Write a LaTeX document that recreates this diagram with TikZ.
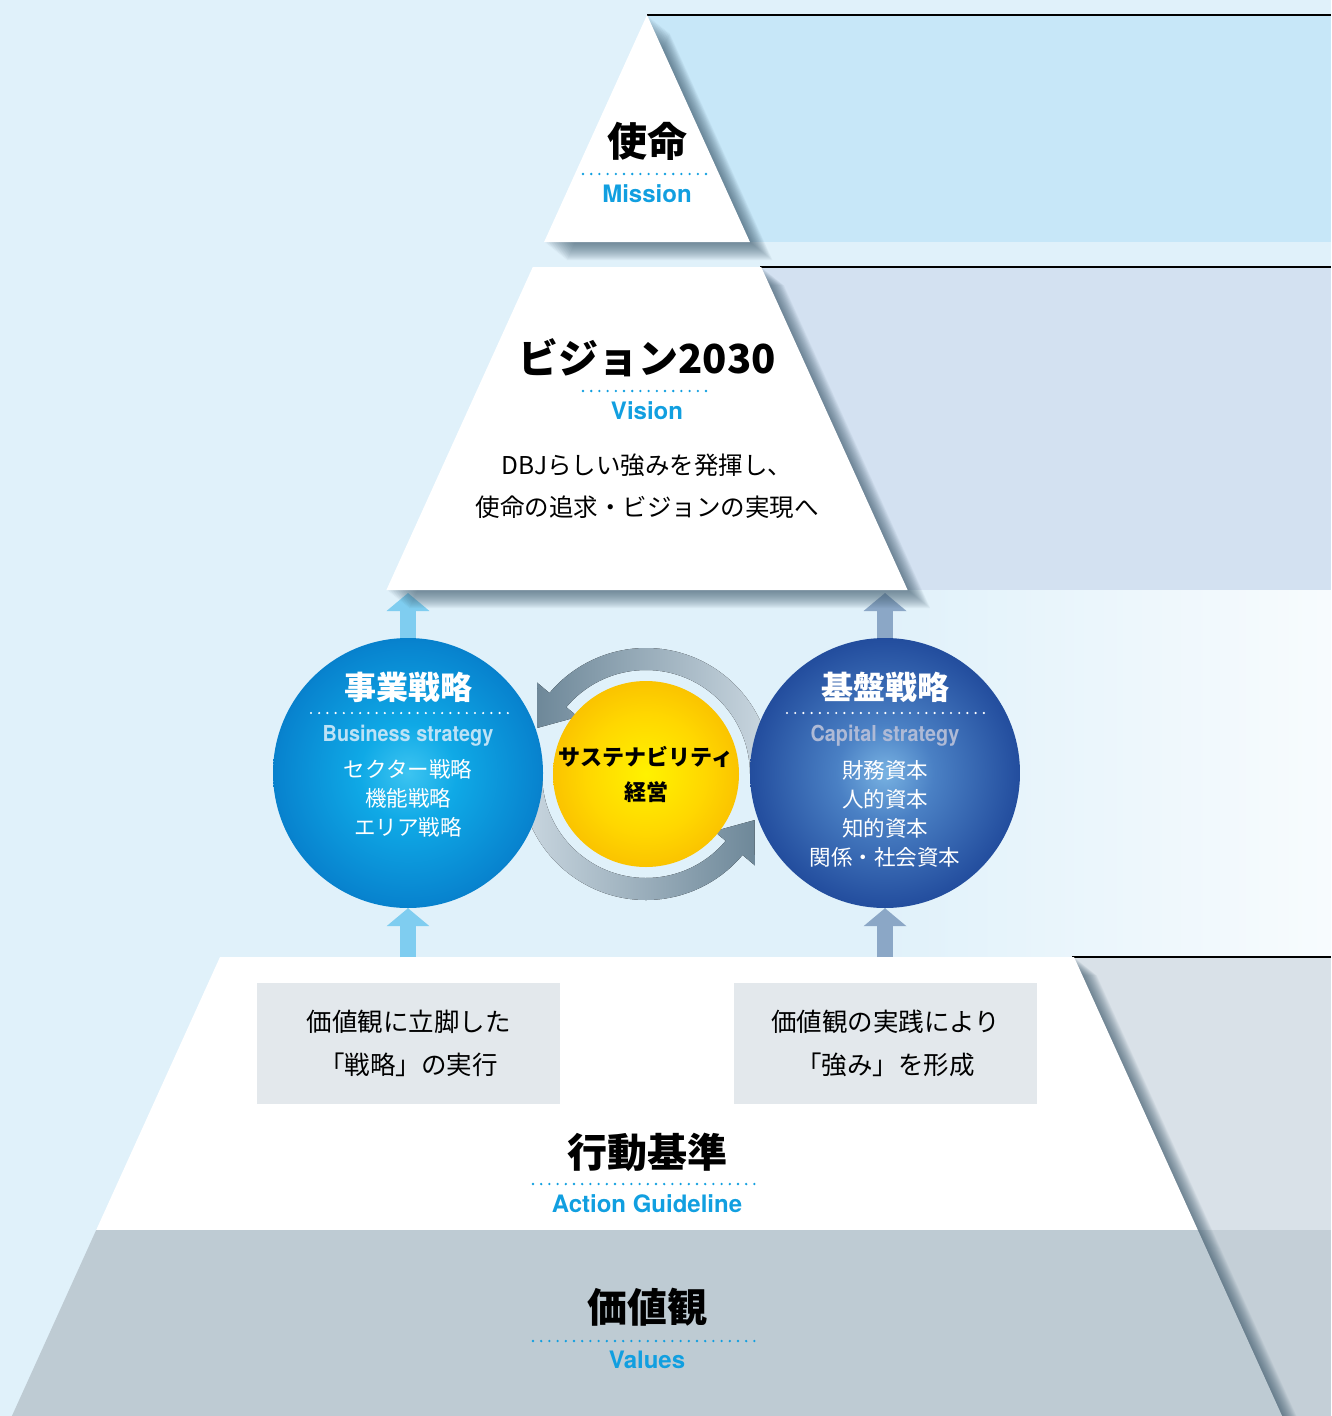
\documentclass[tikz,border=0pt]{standalone}
\usepackage{fontspec}
\setmainfont{Noto Sans CJK JP}
\newfontfamily\lat{TeX Gyre Heros}
\newfontfamily\latc[FakeStretch=0.9]{TeX Gyre Heros}
\usetikzlibrary{arrows.meta}
\definecolor{bg}{HTML}{E0F1FA}
\definecolor{bandA}{HTML}{C7E7F8}
\definecolor{bandB}{HTML}{D3E1F1}
\definecolor{bandD}{HTML}{D9E1E8}
\definecolor{bandE}{HTML}{C4CFD7}
\definecolor{valfill}{HTML}{BECBD3}
\definecolor{boxfill}{HTML}{E3E8EC}
\definecolor{cyanT}{HTML}{119FE0}
\definecolor{arrL}{HTML}{7FCDF0}
\definecolor{arrR}{HTML}{8BA7C6}
\definecolor{ringD}{HTML}{6E8899}
\definecolor{ringL}{HTML}{CBD8E1}
\definecolor{shadowC}{HTML}{3F5B6E}
\definecolor{lcA}{HTML}{3DC4F1}
\definecolor{lcB}{HTML}{0FA9E6}
\definecolor{lcC}{HTML}{0884CF}
\definecolor{lcD}{HTML}{0062B1}
\definecolor{rcA}{HTML}{78B2E2}
\definecolor{rcB}{HTML}{4A80C4}
\definecolor{rcC}{HTML}{2550A0}
\definecolor{rcD}{HTML}{0F3584}
\definecolor{ycA}{HTML}{FFF200}
\definecolor{ycB}{HTML}{FFD700}
\definecolor{ycC}{HTML}{F6B000}
\definecolor{bizsub}{HTML}{BDE2F6}
\definecolor{capsub}{HTML}{AFBAD6}
\pgfdeclareradialshading{ballL}{\pgfpoint{0bp}{0bp}}{color(0bp)=(lcA); color(9bp)=(lcB); color(24bp)=(lcC); color(34bp)=(lcD); color(100bp)=(lcD)}
\pgfdeclareradialshading{ballR}{\pgfpoint{0bp}{0bp}}{color(0bp)=(rcA); color(9bp)=(rcB); color(24bp)=(rcC); color(34bp)=(rcD); color(100bp)=(rcD)}
\pgfdeclareradialshading{ballY}{\pgfpoint{0bp}{0bp}}{color(0bp)=(ycA); color(16bp)=(ycB); color(34bp)=(ycC); color(100bp)=(ycC)}
\newcommand\myshadow[1]{\foreach \k in {1,...,18}{\fill[shadowC, opacity=0.055, shift={(1.25*\k,\k)}] #1;}}
\begin{document}
\begin{tikzpicture}[x=1pt,y=-1pt,
  sepline/.style={black, line width=1.5pt},
  jtitle/.style={font=\fontsize{40}{44}\selectfont\bfseries, text=black, inner sep=0},
  entitle/.style={font=\lat\fontsize{24}{28}\selectfont\bfseries, text=cyanT, inner sep=0, anchor=base},
  body/.style={font=\fontsize{24.5}{42}\selectfont, text=black, inner sep=0, align=center},
  boxtxt/.style={font=\fontsize{25.5}{43}\selectfont, text=black, inner sep=0, align=center, fill=boxfill, minimum width=303, minimum height=121},
  dotline/.style={cyanT, line width=2.6pt, line cap=round, dash pattern=on 0pt off 8.2pt},
  wdotline/.style={white, line width=2.4pt, line cap=round, dash pattern=on 0pt off 8.2pt},
  ctitle/.style={font=\fontsize{32}{36}\selectfont\bfseries, text=white, inner sep=0},
  csub/.style={font=\latc\fontsize{22}{26}\selectfont\bfseries, inner sep=0, anchor=base},
  clist/.style={font=\fontsize{21.5}{29}\selectfont, text=white, inner sep=0, align=center},
  blockL/.style={draw=arrL, line width=16pt, -{Triangle[width=42pt,length=18pt]}},
  blockR/.style={draw=arrR, line width=16pt, -{Triangle[width=42pt,length=18pt]}},
  ball/.style={circle, minimum size=270pt, inner sep=0}
]
\useasboundingbox (0,0) rectangle (1331,1416);
\fill[bg] (0,0) rectangle (1331,1416);
% circle anchors
\node[ball] (biz) at (408,773) {};
\node[ball] (cap) at (885,773) {};
\node[circle, minimum size=186pt, inner sep=0] (sus) at (646,774) {};
\coordinate (rc) at (646,774);
\coordinate (visL) at (408,593);
\coordinate (visR) at (885,593);
\coordinate (actL) at (408,957);
\coordinate (actR) at (885,957);
% right bands
\fill[bandA] (647,15) rectangle (1331,242);
\fill[bandB] (700,267) rectangle (1331,590);
\shade[left color=bg, right color=white!75!bg] (880,590) rectangle (1331,957);
\fill[bandD] (1000,957) rectangle (1331,1230);
\fill[bandE] (1100,1230) rectangle (1331,1416);
\draw[sepline] (647,15) -- (1331,15);
\draw[sepline] (760,267) -- (1331,267);
\draw[sepline] (1072,957) -- (1331,957);
% upper block arrows (under the shadow)
\draw[blockL] (biz.north) -- (visL);
\draw[blockR] (cap.north) -- (visR);
% pyramid
\myshadow{(647,15) -- (749.9,242) -- (544.1,242) -- cycle}
\fill[white] (647,15) -- (749.9,242) -- (544.1,242) -- cycle;
\myshadow{(532.8,267) -- (761.2,267) -- (907.6,590) -- (386.4,590) -- cycle}
\fill[white] (532.8,267) -- (761.2,267) -- (907.6,590) -- (386.4,590) -- cycle;
\myshadow{(220,957) -- (1074,957) -- (1197.8,1230) -- (96.2,1230) -- cycle}
\fill[white] (220,957) -- (1074,957) -- (1197.8,1230) -- (96.2,1230) -- cycle;
\myshadow{(96.2,1230) -- (1197.8,1230) -- (1282.1,1416) -- (11.9,1416) -- cycle}
\fill[valfill] (96.2,1230) -- (1197.8,1230) -- (1282.1,1416) -- (11.9,1416) -- cycle;
% boxes
\node[boxtxt] (boxL) at (408.5,1043.5) {価値観に立脚した\\「戦略」の実行};
\node[boxtxt] (boxR) at (885.5,1043.5) {価値観の実践により\\「強み」を形成};
% cycle arrows
\fill[left color=ringD, right color=ringL]
  ([shift={(rc)}]0:126) arc[start angle=0, end angle=-140, radius=126]
  -- ([shift={(rc)}]-140:142) -- ([shift={(rc)}]-157:118) -- ([shift={(rc)}]-140:89)
  -- ([shift={(rc)}]-140:104) arc[start angle=-140, end angle=0, radius=104] -- cycle;
\fill[left color=ringL, right color=ringD]
  ([shift={(rc)}]180:126) arc[start angle=180, end angle=40, radius=126]
  -- ([shift={(rc)}]40:142) -- ([shift={(rc)}]23:118) -- ([shift={(rc)}]40:89)
  -- ([shift={(rc)}]40:104) arc[start angle=40, end angle=180, radius=104] -- cycle;
% lower block arrows
\draw[blockL] (actL) -- (biz.south);
\draw[blockR] (actR) -- (cap.south);
% balls
\shade[shading=ballL] (biz.center) circle (135);
\shade[shading=ballR] (cap.center) circle (135);
\shade[shading=ballY] (sus.center) circle (93);
% texts
\node[jtitle] (mis) at (647,141.5) {使命};
\draw[dotline] (583,174) -- (712,174);
\node[entitle] (misen) at (647,202) {Mission};
\node[jtitle] (vis) at (647,358) {ビジョン2030};
\draw[dotline] (583,391) -- (712,391);
\node[entitle] (visen) at (647,419) {Vision};
\node[body] (vtxt) at (647,486) {DBJらしい強みを発揮し、\\使命の追求・ビジョンの実現へ};
\node[ctitle] (bizt) at (408,687) {事業戦略};
\draw[wdotline] (311,713) -- (508,713);
\node[csub, text=bizsub] (bizen) at (408,741) {Business strategy};
\node[clist] (bizl) at (408,798) {セクター戦略\\機能戦略\\エリア戦略};
\node[ctitle] (capt) at (885,687) {基盤戦略};
\draw[wdotline] (787,713) -- (985,713);
\node[csub, text=capsub] (capen) at (885,741) {Capital strategy};
\node[clist] (capl) at (885,813.5) {財務資本\\人的資本\\知的資本\\関係・社会資本};
\node[font=\fontsize{22}{35}\selectfont\bfseries, inner sep=0, align=center] (sust) at (646,774.5) {サステナビリティ\\経営};
\node[jtitle] (act) at (647,1152) {行動基準};
\draw[dotline] (533,1184) -- (762,1184);
\node[entitle] (acten) at (647,1212) {Action Guideline};
\node[jtitle] (val) at (647,1307) {価値観};
\draw[dotline] (533,1341) -- (762,1341);
\node[entitle] (valen) at (647,1368) {Values};
\end{tikzpicture}
\end{document}
